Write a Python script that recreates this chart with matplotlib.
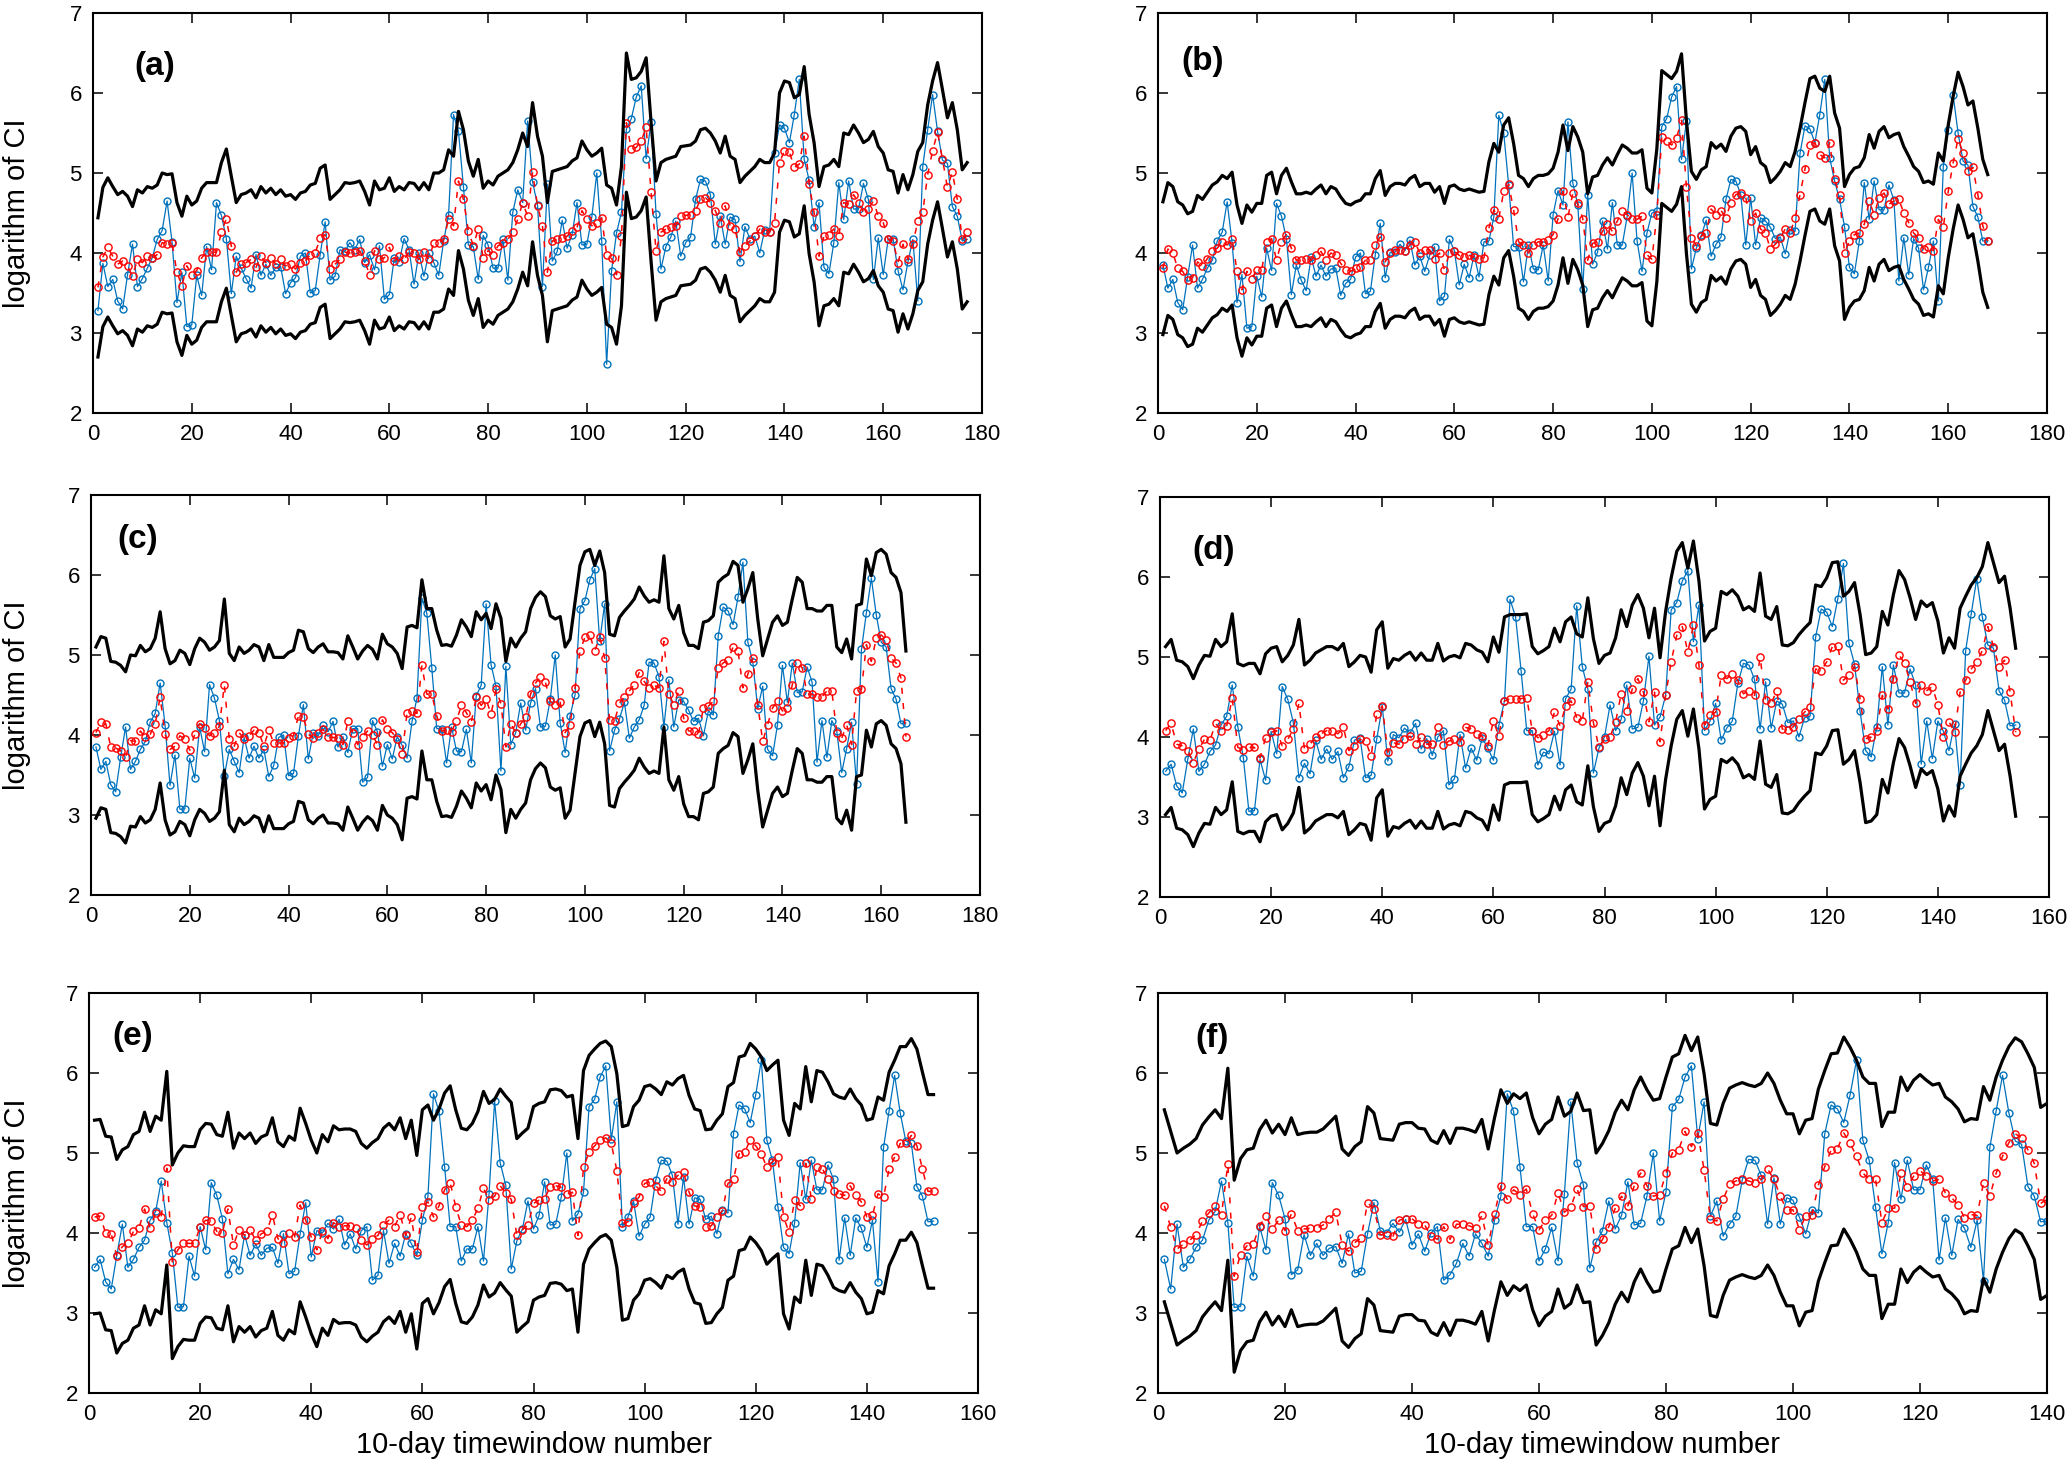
import numpy as np
import matplotlib
matplotlib.use('Agg')
import matplotlib.pyplot as plt

plt.rcParams['font.family'] = ['Liberation Sans', 'DejaVu Sans']

# ---- data ---------------------------------------------------------------
# upper = black upper bound, obs = blue observed, half = half width of band
# red prediction = centre of the black band (upper - half)

upper_a = [4.44, 4.82, 4.94, 4.83, 4.73, 4.77, 4.71, 4.58, 4.79, 4.75,
           4.83, 4.81, 4.85, 5.0, 4.98, 4.99, 4.63, 4.46, 4.71, 4.6,
           4.65, 4.81, 4.88, 4.88, 4.88, 5.13, 5.3, 4.96, 4.63, 4.73,
           4.75, 4.79, 4.69, 4.83, 4.75, 4.81, 4.73, 4.79, 4.71, 4.73,
           4.67, 4.75, 4.77, 4.85, 4.87, 5.06, 5.1, 4.67, 4.73, 4.79,
           4.88, 4.87, 4.88, 4.9, 4.77, 4.6, 4.9, 4.79, 4.81, 4.94,
           4.77, 4.83, 4.79, 4.88, 4.87, 4.79, 4.88, 4.79, 5.0, 5.0,
           5.04, 5.29, 5.21, 5.77, 5.54, 5.15, 4.96, 5.17, 4.81, 4.9,
           4.85, 4.96, 5.0, 5.04, 5.13, 5.29, 5.5, 5.33, 5.88, 5.46,
           5.21, 4.63, 5.02, 5.04, 5.06, 5.08, 5.15, 5.19, 5.4, 5.29,
           5.21, 5.25, 5.31, 4.85, 4.81, 4.6, 5.08, 6.5, 6.17, 6.19,
           6.27, 6.44, 5.63, 4.9, 5.13, 5.17, 5.19, 5.21, 5.33, 5.34,
           5.35, 5.4, 5.54, 5.56, 5.5, 5.4, 5.25, 5.46, 5.21, 5.17,
           4.88, 4.96, 5.02, 5.08, 5.17, 5.13, 5.13, 5.25, 6.0, 6.15,
           6.13, 5.94, 5.98, 6.33, 5.73, 5.38, 4.83, 5.08, 5.1, 5.17,
           5.08, 5.5, 5.48, 5.6, 5.5, 5.38, 5.42, 5.52, 5.33, 5.25,
           5.04, 5.02, 4.75, 4.98, 4.79, 4.98, 5.27, 5.38, 5.85, 6.15,
           6.38, 6.04, 5.69, 5.88, 5.54, 5.04, 5.13]
obs_a = [3.28, 3.87, 3.58, 3.67, 3.4, 3.3, 3.73, 4.11, 3.58, 3.68,
         3.81, 3.94, 4.17, 4.28, 4.65, 4.14, 3.38, 3.76, 3.08, 3.1,
         3.72, 3.47, 4.08, 3.79, 4.63, 4.47, 4.18, 3.49, 3.96, 3.81,
         3.68, 3.56, 3.98, 3.72, 3.86, 3.72, 3.82, 3.83, 3.49, 3.63,
         3.69, 3.96, 4.0, 3.5, 3.53, 3.98, 4.39, 3.66, 3.71, 4.04,
         4.02, 4.13, 4.04, 4.17, 3.88, 3.98, 3.79, 4.09, 3.42, 3.48,
         3.94, 3.89, 4.18, 4.04, 3.61, 4.0, 3.71, 4.0, 3.88, 3.72,
         4.15, 4.48, 5.73, 5.52, 4.83, 4.1, 4.08, 3.67, 4.22, 4.1,
         3.81, 3.81, 4.17, 3.66, 4.51, 4.79, 4.63, 5.65, 4.89, 4.6,
         3.58, 4.86, 3.9, 4.02, 4.41, 4.06, 4.23, 4.63, 4.1, 4.11,
         4.45, 5.0, 4.15, 2.61, 3.78, 4.25, 4.51, 5.55, 5.68, 5.95,
         6.09, 5.18, 5.64, 4.49, 3.8, 4.08, 4.2, 4.4, 3.96, 4.13,
         4.2, 4.67, 4.92, 4.9, 4.73, 4.11, 4.46, 4.11, 4.45, 4.42,
         3.89, 4.33, 4.18, 4.21, 4.0, 4.29, 4.26, 5.25, 5.6, 5.56,
         5.38, 5.73, 6.17, 5.17, 4.91, 4.33, 4.63, 3.82, 3.74, 4.13,
         4.88, 4.42, 4.9, 4.55, 4.55, 4.87, 4.67, 3.67, 4.19, 3.73,
         4.17, 4.18, 3.78, 3.54, 3.89, 4.17, 3.4, 5.08, 5.54, 5.98,
         5.52, 5.16, 5.12, 4.58, 4.46, 4.15, 4.17]
half_a = 0.87

upper_b = [4.64, 4.88, 4.83, 4.64, 4.6, 4.49, 4.52, 4.72, 4.67, 4.76,
           4.85, 4.89, 4.97, 4.93, 5.01, 4.6, 4.37, 4.6, 4.51, 4.62,
           4.62, 4.97, 5.01, 4.74, 4.97, 5.06, 4.89, 4.74, 4.74, 4.76,
           4.74, 4.8, 4.85, 4.74, 4.83, 4.8, 4.7, 4.62, 4.6, 4.64,
           4.66, 4.74, 4.74, 4.93, 5.03, 4.72, 4.83, 4.87, 4.87, 4.85,
           4.93, 4.97, 4.83, 4.87, 4.87, 4.76, 4.83, 4.62, 4.83, 4.85,
           4.8, 4.78, 4.8, 4.78, 4.76, 4.77, 5.14, 5.37, 5.26, 5.6,
           5.69, 5.37, 4.97, 4.93, 4.83, 4.93, 4.97, 4.97, 4.99, 5.06,
           5.26, 5.6, 5.28, 5.58, 5.45, 5.26, 4.74, 4.95, 4.97, 5.1,
           5.19, 5.1, 5.23, 5.35, 5.31, 5.25, 5.25, 5.29, 4.81, 4.75,
           5.3, 6.28, 6.23, 6.18, 6.27, 6.49, 5.65, 5.02, 4.92, 5.04,
           5.08, 5.38, 5.31, 5.36, 5.27, 5.46, 5.56, 5.58, 5.52, 5.23,
           5.33, 5.13, 5.08, 4.88, 4.94, 5.02, 5.13, 5.08, 5.27, 5.56,
           5.88, 6.18, 6.21, 6.06, 6.02, 6.21, 5.75, 5.56, 4.83, 4.98,
           5.06, 5.08, 5.19, 5.48, 5.31, 5.52, 5.58, 5.44, 5.48, 5.5,
           5.33, 5.21, 5.08, 5.02, 4.88, 4.9, 4.86, 5.25, 5.15, 5.6,
           5.96, 6.26, 6.08, 5.85, 5.9, 5.56, 5.17, 4.98]
obs_b = [3.85, 3.56, 3.67, 3.38, 3.29, 3.7, 4.1, 3.56, 3.67, 3.81,
         3.91, 4.15, 4.26, 4.64, 4.13, 3.38, 3.73, 3.06, 3.08, 3.71,
         3.45, 4.06, 3.78, 4.62, 4.46, 4.18, 3.48, 3.85, 3.66, 3.53,
         3.95, 3.71, 3.85, 3.71, 3.8, 3.81, 3.47, 3.62, 3.67, 3.95,
         4.0, 3.49, 3.52, 3.98, 4.37, 3.69, 4.01, 4.01, 4.11, 4.03,
         4.16, 3.85, 3.96, 3.77, 3.97, 4.08, 3.4, 3.46, 4.17, 4.03,
         3.6, 3.86, 3.69, 3.98, 3.7, 4.14, 4.15, 4.45, 5.72, 5.5,
         4.85, 4.08, 4.08, 3.64, 4.1, 3.8, 3.79, 4.1, 3.65, 4.48,
         4.78, 4.6, 5.64, 4.87, 4.6, 3.55, 4.73, 3.86, 4.01, 4.4,
         4.05, 4.63, 4.1, 4.1, 4.46, 5.0, 4.15, 3.77, 4.25, 4.5,
         4.52, 5.58, 5.68, 5.95, 6.08, 5.17, 5.65, 3.8, 4.06, 4.22,
         4.41, 3.96, 4.11, 4.2, 4.67, 4.92, 4.9, 4.73, 4.1, 4.69,
         4.1, 4.44, 4.4, 4.32, 4.18, 4.2, 3.99, 4.29, 4.27, 5.25,
         5.59, 5.55, 5.38, 5.73, 6.17, 5.19, 4.9, 4.67, 4.33, 3.82,
         3.74, 4.15, 4.88, 4.42, 4.9, 4.54, 4.54, 4.85, 4.66, 3.65,
         4.19, 3.73, 4.18, 4.06, 3.54, 3.82, 4.15, 3.4, 5.08, 5.54,
         5.97, 5.5, 5.15, 5.1, 4.58, 4.45, 4.15, 4.15]
half_b = 0.83

upper_c = [5.1, 5.23, 5.21, 4.92, 4.91, 4.87, 4.79, 5.0, 4.99, 5.12,
           5.04, 5.08, 5.21, 5.54, 5.08, 4.89, 4.93, 5.06, 5.02, 4.88,
           5.08, 5.21, 5.16, 5.06, 5.1, 5.18, 5.7, 5.02, 4.93, 5.1,
           5.02, 5.06, 5.13, 5.1, 4.93, 5.13, 4.97, 4.97, 4.97, 5.03,
           5.06, 5.31, 5.29, 5.08, 5.03, 5.1, 5.14, 5.04, 5.04, 5.03,
           4.95, 5.24, 5.1, 4.95, 5.05, 5.12, 5.07, 4.95, 5.26, 5.14,
           5.1, 5.02, 4.83, 5.35, 5.37, 5.34, 5.94, 5.58, 5.58, 5.31,
           5.12, 5.13, 5.11, 5.25, 5.44, 5.35, 5.23, 5.54, 5.44, 5.52,
           5.33, 5.64, 5.46, 4.92, 5.21, 5.1, 5.21, 5.29, 5.58, 5.72,
           5.79, 5.73, 5.49, 5.45, 5.48, 5.1, 5.2, 5.66, 6.12, 6.29,
           6.32, 6.12, 6.3, 6.03, 5.26, 5.24, 5.47, 5.55, 5.62, 5.7,
           5.85, 5.74, 5.66, 5.69, 5.66, 6.24, 5.58, 5.45, 5.62, 5.28,
           5.12, 5.12, 5.08, 5.41, 5.43, 5.49, 5.91, 5.97, 6.01, 6.17,
           6.12, 5.66, 5.83, 6.03, 5.45, 4.99, 5.2, 5.41, 5.49, 5.37,
           5.41, 5.7, 5.97, 5.91, 5.58, 5.58, 5.55, 5.55, 5.62, 5.62,
           5.1, 5.03, 5.2, 4.95, 5.62, 5.64, 6.2, 5.99, 6.28, 6.32,
           6.26, 6.03, 5.97, 5.78, 5.05]
obs_c = [3.85, 3.57, 3.67, 3.38, 3.29, 3.72, 4.1, 3.57, 3.67, 3.82,
         3.92, 4.16, 4.27, 4.65, 4.12, 3.37, 3.75, 3.07, 3.08, 3.71,
         3.46, 4.1, 3.79, 4.63, 4.46, 4.18, 3.49, 3.82, 3.67, 3.53,
         3.97, 3.71, 3.86, 3.71, 3.82, 3.48, 3.62, 3.97, 4.0, 3.49,
         3.52, 3.99, 4.38, 3.7, 4.03, 3.99, 4.12, 4.04, 4.17, 3.85,
         3.98, 3.78, 4.08, 4.08, 3.41, 3.47, 4.18, 4.04, 3.61, 3.88,
         3.7, 3.98, 3.87, 3.71, 4.17, 4.46, 5.71, 5.52, 4.84, 4.08,
         4.08, 3.65, 4.1, 3.8, 3.79, 4.07, 3.65, 4.49, 4.62, 5.64,
         4.88, 4.61, 3.55, 4.86, 3.88, 4.03, 4.4, 4.06, 4.4, 4.58,
         4.1, 4.11, 4.45, 5.0, 4.15, 3.78, 4.24, 4.5, 5.58, 5.68,
         5.94, 6.08, 5.17, 5.64, 3.8, 4.06, 4.2, 4.41, 3.96, 4.1,
         4.19, 4.37, 4.91, 4.9, 4.73, 4.1, 4.69, 4.1, 4.44, 4.42,
         4.31, 4.17, 4.21, 3.99, 4.3, 4.25, 5.24, 5.6, 5.55, 5.38,
         5.72, 6.16, 5.16, 4.91, 4.33, 4.61, 3.82, 3.74, 4.13, 4.87,
         4.41, 4.9, 4.53, 4.54, 4.85, 4.66, 3.66, 4.18, 3.72, 4.18,
         4.05, 3.53, 3.83, 4.16, 3.39, 5.07, 5.53, 5.96, 5.5, 5.16,
         5.1, 4.58, 4.45, 4.14, 4.15]
half_c = 1.07

upper_d = [5.13, 5.22, 4.96, 4.94, 4.88, 4.73, 4.9, 5.02, 5.01, 5.22,
           5.13, 5.19, 5.54, 4.92, 4.89, 4.92, 4.92, 4.79, 5.04, 5.11,
           5.13, 4.94, 5.02, 5.15, 5.47, 4.9, 4.96, 5.05, 5.09, 5.13,
           5.13, 5.09, 5.17, 4.88, 4.94, 5.02, 5.0, 4.81, 5.34, 5.44,
           4.86, 4.98, 4.96, 5.02, 5.06, 4.96, 5.05, 4.96, 4.96, 5.17,
           4.95, 5.0, 5.02, 4.99, 5.17, 5.15, 5.09, 5.06, 4.94, 5.25,
           5.06, 5.5, 5.53, 5.53, 5.53, 5.54, 5.13, 5.04, 5.08, 5.13,
           5.36, 5.19, 5.44, 5.5, 5.29, 5.25, 5.74, 5.23, 4.92, 5.02,
           5.05, 5.24, 5.59, 5.38, 5.65, 5.78, 5.61, 5.24, 5.61, 4.99,
           5.57, 5.99, 6.32, 6.43, 6.11, 6.45, 5.95, 5.2, 5.32, 5.36,
           5.82, 5.78, 5.84, 5.76, 5.59, 5.63, 5.57, 6.05, 5.51, 5.47,
           5.63, 5.15, 5.14, 5.18, 5.28, 5.36, 5.43, 5.9, 5.88, 5.99,
           6.18, 6.19, 5.76, 5.82, 5.93, 5.53, 5.03, 5.05, 5.13, 5.57,
           5.4, 5.78, 6.08, 5.97, 5.74, 5.47, 5.7, 5.63, 5.68, 5.45,
           5.05, 5.24, 5.11, 5.61, 5.76, 5.9, 5.99, 6.13, 6.43, 6.18,
           5.93, 6.01, 5.61, 5.11]
obs_d = [3.57, 3.66, 3.39, 3.3, 3.72, 4.1, 3.57, 3.66, 3.82, 3.9,
         4.15, 4.26, 4.65, 4.13, 3.74, 3.07, 3.08, 3.72, 3.46, 4.07,
         3.79, 4.63, 4.47, 4.18, 3.49, 3.67, 3.54, 3.96, 3.72, 3.85,
         3.72, 3.82, 3.49, 3.63, 3.96, 3.99, 3.49, 3.52, 3.97, 4.38,
         3.7, 4.03, 3.99, 4.11, 4.05, 4.17, 3.85, 3.98, 3.77, 4.0,
         4.08, 3.4, 3.48, 4.03, 3.61, 3.86, 3.71, 3.99, 3.86, 3.71,
         4.15, 4.45, 5.72, 5.5, 4.82, 4.08, 4.08, 3.65, 3.81, 3.79,
         4.07, 3.65, 4.48, 4.6, 5.64, 4.88, 4.6, 3.55, 3.86, 4.0,
         4.4, 4.08, 4.22, 4.65, 4.1, 4.12, 4.45, 5.01, 4.15, 4.25,
         4.52, 5.59, 5.68, 5.95, 6.08, 5.19, 5.65, 4.08, 4.2, 4.42,
         3.96, 4.11, 4.2, 4.67, 4.92, 4.9, 4.72, 4.1, 4.69, 4.11,
         4.45, 4.41, 4.18, 4.2, 4.0, 4.24, 4.26, 5.25, 5.6, 5.56,
         5.38, 5.73, 6.17, 5.17, 4.91, 4.32, 3.83, 3.75, 4.13, 4.88,
         4.15, 4.9, 4.55, 4.55, 4.85, 4.65, 3.66, 4.2, 3.73, 4.2,
         4.07, 3.83, 4.16, 3.4, 5.08, 5.54, 5.98, 5.5, 5.15, 5.11,
         4.58, 4.46, 4.14, 4.15]
half_d = 1.05

upper_e = [5.41, 5.42, 5.21, 5.2, 4.92, 5.04, 5.08, 5.23, 5.27, 5.51,
           5.27, 5.46, 5.41, 6.02, 4.85, 5.0, 5.09, 5.08, 5.08, 5.29,
           5.37, 5.36, 5.23, 5.21, 5.51, 5.06, 5.25, 5.18, 5.25, 5.12,
           5.2, 5.23, 5.44, 5.14, 5.08, 5.21, 5.16, 5.56, 5.37, 5.16,
           5.0, 5.23, 5.14, 5.34, 5.29, 5.3, 5.3, 5.27, 5.12, 5.06,
           5.13, 5.18, 5.31, 5.37, 5.29, 5.44, 5.18, 5.41, 4.97, 5.54,
           5.6, 5.41, 5.55, 5.75, 5.84, 5.54, 5.31, 5.29, 5.37, 5.52,
           5.77, 5.62, 5.67, 5.8, 5.71, 5.63, 5.18, 5.25, 5.31, 5.58,
           5.62, 5.64, 5.79, 5.8, 5.78, 5.7, 5.72, 5.18, 6.03, 6.22,
           6.3, 6.37, 6.4, 6.33, 5.99, 5.33, 5.35, 5.58, 5.66, 5.83,
           5.85, 5.8, 5.73, 5.89, 5.85, 5.93, 5.97, 5.72, 5.55, 5.53,
           5.29, 5.3, 5.41, 5.49, 5.83, 5.88, 6.2, 6.22, 6.37, 6.3,
           6.2, 6.03, 6.1, 6.16, 5.41, 5.22, 5.62, 5.55, 6.08, 5.64,
           6.03, 6.01, 5.89, 5.74, 5.7, 5.68, 5.8, 5.68, 5.6, 5.41,
           5.43, 5.7, 5.66, 6.01, 6.16, 6.33, 6.33, 6.43, 6.3, 6.01,
           5.73, 5.73]
obs_e = [3.57, 3.67, 3.39, 3.3, 3.72, 4.11, 3.57, 3.67, 3.82, 3.91,
         4.16, 4.27, 4.65, 4.13, 3.75, 3.07, 3.08, 3.71, 3.46, 4.08,
         3.79, 4.63, 4.47, 4.18, 3.49, 3.67, 3.54, 3.98, 3.72, 3.86,
         3.72, 3.81, 3.82, 3.62, 3.99, 3.49, 3.52, 3.99, 4.38, 3.7,
         4.03, 4.0, 4.12, 4.05, 4.17, 3.85, 3.99, 3.8, 4.03, 4.08,
         3.41, 3.47, 4.03, 3.62, 3.87, 3.71, 3.99, 3.87, 3.72, 4.16,
         4.46, 5.74, 5.52, 4.83, 4.08, 4.08, 3.65, 3.8, 3.8, 4.08,
         3.65, 4.49, 5.65, 4.88, 4.6, 3.55, 3.9, 4.05, 4.4, 4.05,
         4.22, 4.64, 4.1, 4.11, 4.45, 5.0, 4.15, 4.24, 4.51, 5.58,
         5.67, 5.95, 6.09, 5.17, 5.64, 4.08, 4.2, 4.4, 3.96, 4.11,
         4.2, 4.66, 4.91, 4.9, 4.72, 4.11, 4.7, 4.11, 4.44, 4.42,
         4.17, 4.21, 3.99, 4.29, 4.25, 5.24, 5.6, 5.55, 5.38, 5.73,
         6.16, 5.16, 4.91, 4.32, 3.82, 3.74, 4.13, 4.88, 4.42, 4.91,
         4.54, 4.54, 4.85, 4.67, 3.66, 4.19, 3.72, 4.19, 4.06, 3.82,
         4.16, 3.39, 5.07, 5.53, 5.97, 5.5, 5.15, 5.12, 4.58, 4.46,
         4.14, 4.15]
half_e = 1.21

upper_f = [5.54, 5.27, 5.0, 5.06, 5.11, 5.18, 5.35, 5.45, 5.54, 5.43,
           6.06, 4.66, 4.93, 5.04, 5.06, 5.29, 5.41, 5.25, 5.36, 5.23,
           5.44, 5.23, 5.25, 5.26, 5.26, 5.3, 5.38, 5.46, 5.05, 4.97,
           5.08, 5.14, 5.58, 5.5, 5.18, 5.17, 5.16, 5.36, 5.38, 5.38,
           5.31, 5.3, 5.16, 5.12, 5.28, 5.12, 5.31, 5.31, 5.29, 5.26,
           5.42, 5.05, 5.44, 5.79, 5.62, 5.74, 5.68, 5.75, 5.44, 5.24,
           5.36, 5.42, 5.7, 5.46, 5.52, 5.75, 5.53, 5.54, 5.0, 5.12,
           5.28, 5.51, 5.66, 5.54, 5.79, 5.95, 5.79, 5.66, 5.68, 5.95,
           6.2, 6.24, 6.47, 6.28, 6.45, 5.99, 5.37, 5.35, 5.62, 5.81,
           5.85, 5.88, 5.85, 5.83, 5.87, 6.0, 5.87, 5.66, 5.49, 5.49,
           5.24, 5.41, 5.43, 5.8, 6.03, 6.24, 6.25, 6.45, 6.32, 6.16,
           5.95, 5.87, 5.87, 5.33, 5.51, 5.51, 5.95, 5.78, 5.91, 5.98,
           5.91, 5.85, 5.87, 5.7, 5.64, 5.55, 5.39, 5.43, 5.42, 5.83,
           5.66, 5.95, 6.16, 6.33, 6.44, 6.39, 6.24, 6.07, 5.57, 5.62]
obs_f = [3.67, 3.3, 4.11, 3.57, 3.67, 3.82, 3.91, 4.16, 4.27, 4.65,
         4.13, 3.07, 3.08, 3.71, 3.46, 4.08, 3.79, 4.63, 4.47, 4.18,
         3.48, 3.54, 3.98, 3.72, 3.87, 3.72, 3.81, 3.83, 3.62, 3.99,
         3.5, 3.52, 3.99, 4.38, 4.03, 4.0, 4.12, 4.01, 4.17, 3.85,
         3.99, 3.77, 4.0, 4.08, 3.41, 3.48, 3.62, 3.87, 3.71, 3.99,
         3.87, 3.71, 4.16, 4.46, 5.74, 5.52, 4.83, 4.08, 4.08, 3.65,
         3.8, 4.07, 3.65, 4.49, 5.64, 4.88, 4.6, 3.56, 3.89, 4.03,
         4.4, 4.05, 4.22, 4.64, 4.1, 4.12, 4.46, 5.0, 4.15, 4.51,
         5.58, 5.67, 5.95, 6.09, 5.18, 5.64, 4.21, 4.4, 3.96, 4.11,
         4.21, 4.66, 4.92, 4.91, 4.72, 4.11, 4.69, 4.11, 4.44, 4.41,
         4.2, 3.99, 4.29, 4.25, 5.24, 5.6, 5.55, 5.38, 5.73, 6.16,
         5.16, 4.91, 4.32, 3.74, 4.13, 4.88, 4.42, 4.91, 4.54, 4.54,
         4.85, 4.67, 3.66, 4.19, 3.72, 4.17, 4.06, 3.82, 4.16, 3.4,
         5.07, 5.53, 5.97, 5.5, 5.15, 5.11, 4.58, 4.46, 4.14, 4.15]
half_f = 1.2

panel_labels = ['(a)', '(b)', '(c)', '(d)', '(e)', '(f)']
x_max = [180, 180, 180, 160, 160, 140]
upper_all = [upper_a, upper_b, upper_c, upper_d, upper_e, upper_f]
obs_all = [obs_a, obs_b, obs_c, obs_d, obs_e, obs_f]
half_all = [half_a, half_b, half_c, half_d, half_e, half_f]

# ---- layout (pixels of the 2072x1467 picture) ----------------------------
W, H = 2072., 1467.
ax_w, ax_h = 889., 400.
# left edge and bottom edge of each panel in pixels (from the top)
ax_px = [(93, 413), (1158, 413), (91, 895), (1160, 897), (89, 1393), (1158, 1393)]
label_xy = [(0.046, 0.866), (0.026, 0.879), (0.030, 0.888),
            (0.036, 0.867), (0.026, 0.892), (0.042, 0.887)]

fig = plt.figure(figsize=(W / 100, H / 100), dpi=100)

for i in range(6):
    left, bottom = ax_px[i]
    ax = fig.add_axes([left / W, 1 - bottom / H, ax_w / W, ax_h / H])

    upper = np.array(upper_all[i])
    obs = np.array(obs_all[i])
    pred = upper - half_all[i]
    lower = upper - 2 * half_all[i]
    t = np.arange(1, len(obs) + 1)

    ax.plot(t, obs, '-o', color='#0072BD', lw=0.9, ms=5,
            mfc='none', mew=1.0)
    ax.plot(t, pred, color='red', ls=(0, (4, 6)), lw=1.1, marker='o',
            ms=5.2, mfc='none', mew=1.0)
    ax.plot(t, upper, 'k-', lw=2.3)
    ax.plot(t, lower, 'k-', lw=2.3)

    ax.set_xlim(0, x_max[i])
    ax.set_ylim(2, 7)
    ax.set_xticks(np.arange(0, x_max[i] + 1, 20))
    ax.set_yticks(np.arange(2, 8, 1))
    ax.tick_params(direction='in', length=7, width=1.1, top=True,
                   right=True, labelsize=16)
    ax.tick_params(axis='x', pad=8)
    ax.tick_params(axis='y', pad=8)
    for s in ax.spines.values():
        s.set_linewidth(1.5)

    ax.text(label_xy[i][0], label_xy[i][1], panel_labels[i],
            transform=ax.transAxes, fontsize=24, fontweight='bold',
            ha='left', va='center')

    if i % 2 == 0:
        yc = 1 - (bottom - ax_h / 2) / H
        fig.text(17 / W, yc, 'logarithm of CI', rotation=90,
                 ha='center', va='center', fontsize=21)
    if i >= 4:
        ax.set_xlabel('10-day timewindow number', fontsize=21, labelpad=4)

fig.savefig('out.png', dpi=100)
